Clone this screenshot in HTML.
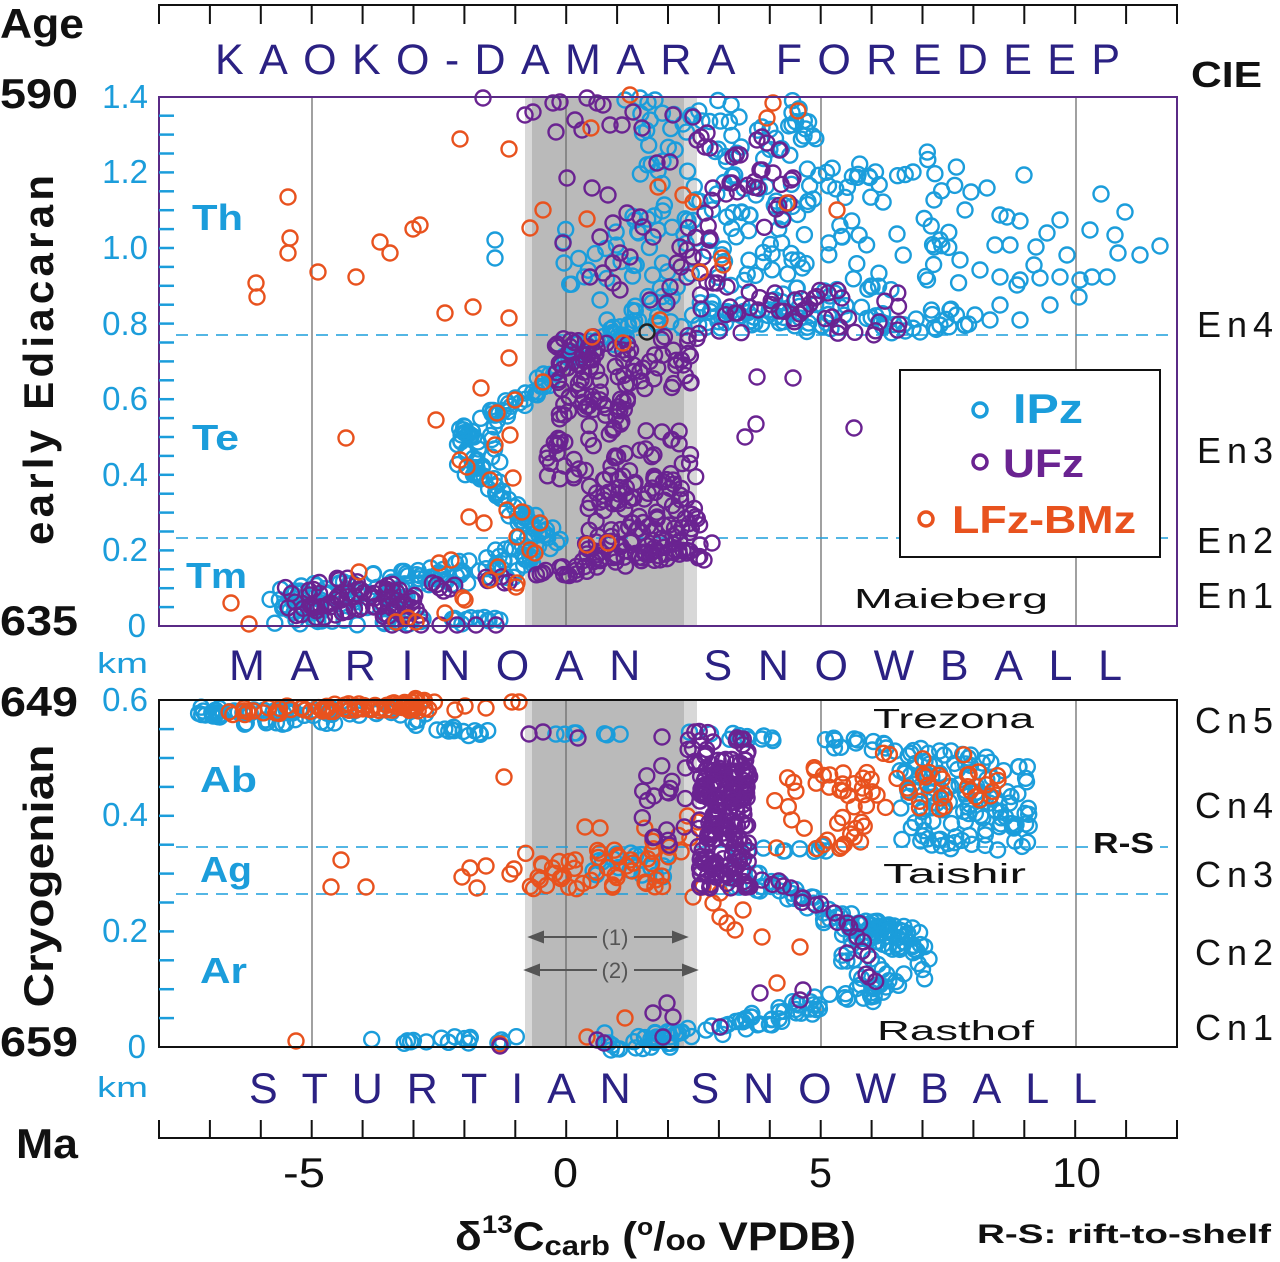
<!DOCTYPE html>
<html><head><meta charset="utf-8">
<style>
html,body{margin:0;padding:0;background:#fff;}
svg{display:block;}
text{font-family:"Liberation Sans",sans-serif;}
</style></head>
<body>
<svg id="s" width="1280" height="1262" viewBox="0 0 1280 1262" xmlns="http://www.w3.org/2000/svg">
<rect width="1280" height="1262" fill="#fff"/>
<!-- grey bands -->
<rect x="525" y="97" width="172" height="529" fill="#d8d8d8"/>
<rect x="532" y="97" width="152" height="529" fill="#bababa"/>
<rect x="525" y="700" width="172" height="347" fill="#d8d8d8"/>
<rect x="532" y="700" width="152" height="347" fill="#bababa"/>
<!-- vertical grid lines -->
<g stroke="#6e6e6e" stroke-width="1.3">
<line x1="312" y1="97" x2="312" y2="626"/><line x1="566" y1="97" x2="566" y2="626"/>
<line x1="821" y1="97" x2="821" y2="626"/><line x1="1076" y1="97" x2="1076" y2="626"/>
<line x1="312" y1="700" x2="312" y2="1047"/><line x1="566" y1="700" x2="566" y2="1047"/>
<line x1="821" y1="700" x2="821" y2="1047"/><line x1="1076" y1="700" x2="1076" y2="1047"/>
</g>
<!-- dashed lines -->
<g stroke="#1b9ddb" stroke-width="1.6" stroke-dasharray="12,8">
<line x1="176" y1="335" x2="1177" y2="335"/>
<line x1="176" y1="538" x2="1177" y2="538"/>
<line x1="176" y1="847" x2="1177" y2="847"/>
<line x1="176" y1="894" x2="1177" y2="894"/>
</g>
<!-- arrows -->
<g stroke="#555" stroke-width="2" fill="#555">
<line x1="540" y1="937" x2="597" y2="937"/><line x1="634" y1="937" x2="676" y2="937"/>
<polygon points="530,937 543,932 543,942"/><polygon points="686,937 673,932 673,942"/>
<line x1="536" y1="970" x2="597" y2="970"/><line x1="634" y1="970" x2="686" y2="970"/>
<polygon points="526,970 539,965 539,975"/><polygon points="696,970 683,965 683,975"/>
</g>
<text x="615" y="945" font-size="22" fill="#555" text-anchor="middle">(1)</text>
<text x="615" y="978" font-size="22" fill="#555" text-anchor="middle">(2)</text>

<g id="pts" fill="none" stroke-width="2.4"></g>

<!-- frames -->
<rect x="159" y="97" width="1018" height="529" fill="none" stroke="#5a2a86" stroke-width="2"/>
<rect x="159" y="700" width="1018" height="347" fill="none" stroke="#111" stroke-width="2"/>
<!-- left ticks -->
<g id="lt" stroke="#1b9ddb" stroke-width="2.5"></g>
<!-- top & bottom axes -->
<g id="ax" stroke="#111" stroke-width="2"></g>

<!-- legend -->
<rect x="900" y="370" width="260" height="187" fill="#fff" stroke="#111" stroke-width="2"/>
<circle cx="980" cy="410" r="7" fill="none" stroke="#1b9ddb" stroke-width="3.5"/>
<circle cx="980" cy="462" r="7" fill="none" stroke="#6a2391" stroke-width="3.5"/>
<circle cx="926" cy="519" r="7" fill="none" stroke="#e8521e" stroke-width="3.5"/>
<text x="1013" y="423" font-size="42" font-weight="bold" fill="#1b9ddb" textLength="70" lengthAdjust="spacingAndGlyphs">IPz</text>
<text x="1003" y="477" font-size="40" font-weight="bold" fill="#6a2391" textLength="81" lengthAdjust="spacingAndGlyphs">UFz</text>
<text x="952" y="533" font-size="39" font-weight="bold" fill="#e8521e" textLength="184" lengthAdjust="spacingAndGlyphs">LFz-BMz</text>

<!-- R-S label -->
<rect x="1088" y="828" width="72" height="30" fill="#fff"/>
<text x="1093" y="853" font-size="29" font-weight="bold" fill="#111" textLength="61" lengthAdjust="spacingAndGlyphs">R-S</text>

<!-- formation labels -->
<g fill="#111" font-size="28">
<text x="854" y="608" textLength="194" lengthAdjust="spacingAndGlyphs">Maieberg</text>
<text x="873" y="728" textLength="161" lengthAdjust="spacingAndGlyphs">Trezona</text>
<text x="883" y="883" textLength="143" lengthAdjust="spacingAndGlyphs">Taishir</text>
<text x="877" y="1040" textLength="157" lengthAdjust="spacingAndGlyphs">Rasthof</text>
</g>

<!-- titles -->
<g fill="#2b2183" font-size="43">
<text x="215" y="74" textLength="905" lengthAdjust="spacing">KAOKO-DAMARA FOREDEEP</text>
<text x="229" y="680" textLength="893" lengthAdjust="spacing">MARINOAN SNOWBALL</text>
<text x="249" y="1103" textLength="848" lengthAdjust="spacing">STURTIAN SNOWBALL</text>
</g>

<!-- left black labels -->
<g fill="#111" font-weight="bold" font-size="42">
<text x="0" y="38" textLength="84" lengthAdjust="spacingAndGlyphs">Age</text>
<text x="0" y="108" textLength="78" lengthAdjust="spacingAndGlyphs">590</text>
<text x="0" y="635" textLength="78" lengthAdjust="spacingAndGlyphs">635</text>
<text x="0" y="716" textLength="78" lengthAdjust="spacingAndGlyphs">649</text>
<text x="0" y="1056" textLength="78" lengthAdjust="spacingAndGlyphs">659</text>
<text x="16" y="1158" textLength="62" lengthAdjust="spacingAndGlyphs">Ma</text>
<text transform="translate(53,360) rotate(-90)" text-anchor="middle" textLength="370" lengthAdjust="spacing">early Ediacaran</text>
<text transform="translate(53,876) rotate(-90)" text-anchor="middle" textLength="263" lengthAdjust="spacingAndGlyphs">Cryogenian</text>
</g>

<!-- km labels -->
<g fill="#1b9ddb" font-size="33" text-anchor="end">
<text x="148" y="108">1.4</text>
<text x="148" y="183">1.2</text>
<text x="148" y="259">1.0</text>
<text x="148" y="335">0.8</text>
<text x="148" y="410">0.6</text>
<text x="148" y="486">0.4</text>
<text x="148" y="561">0.2</text>
<text x="146" y="637">0</text>
<text x="148" y="711">0.6</text>
<text x="148" y="826">0.4</text>
<text x="148" y="942">0.2</text>
<text x="146" y="1058">0</text>
</g>
<g fill="#1b9ddb" font-size="29">
<text x="97" y="673" textLength="51" lengthAdjust="spacingAndGlyphs">km</text>
<text x="97" y="1097" textLength="51" lengthAdjust="spacingAndGlyphs">km</text>
</g>
<g fill="#1b9ddb" font-size="36" font-weight="bold">
<text x="192" y="230" textLength="51" lengthAdjust="spacingAndGlyphs">Th</text>
<text x="192" y="450" textLength="47" lengthAdjust="spacingAndGlyphs">Te</text>
<text x="186" y="588" textLength="61" lengthAdjust="spacingAndGlyphs">Tm</text>
<text x="200" y="792" textLength="57" lengthAdjust="spacingAndGlyphs">Ab</text>
<text x="200" y="882" textLength="52" lengthAdjust="spacingAndGlyphs">Ag</text>
<text x="200" y="983" textLength="47" lengthAdjust="spacingAndGlyphs">Ar</text>
</g>

<!-- right labels -->
<text x="1191" y="87" font-size="36" font-weight="bold" fill="#111" textLength="71" lengthAdjust="spacingAndGlyphs">CIE</text>
<g fill="#111" font-size="36">
<text x="1197" y="337" textLength="76" lengthAdjust="spacing">En4</text>
<text x="1197" y="463" textLength="76" lengthAdjust="spacing">En3</text>
<text x="1197" y="553" textLength="76" lengthAdjust="spacing">En2</text>
<text x="1197" y="608" textLength="76" lengthAdjust="spacing">En1</text>
<text x="1195" y="733" textLength="78" lengthAdjust="spacing">Cn5</text>
<text x="1195" y="818" textLength="78" lengthAdjust="spacing">Cn4</text>
<text x="1195" y="887" textLength="78" lengthAdjust="spacing">Cn3</text>
<text x="1195" y="965" textLength="78" lengthAdjust="spacing">Cn2</text>
<text x="1195" y="1040" textLength="78" lengthAdjust="spacing">Cn1</text>
</g>

<!-- x tick labels -->
<g fill="#111" font-size="42">
<text x="283" y="1187" textLength="42" lengthAdjust="spacingAndGlyphs">-5</text>
<text x="553" y="1187" textLength="25" lengthAdjust="spacingAndGlyphs">0</text>
<text x="809" y="1187" textLength="23" lengthAdjust="spacingAndGlyphs">5</text>
<text x="1052" y="1187" textLength="49" lengthAdjust="spacingAndGlyphs">10</text>
</g>

<!-- x label -->
<text x="455" y="1250" font-size="40" font-weight="bold" fill="#111" textLength="401" lengthAdjust="spacingAndGlyphs">δ<tspan font-size="25" dy="-17">13</tspan><tspan dy="17">C</tspan><tspan font-size="28" dy="5">carb</tspan><tspan dy="-5"> (</tspan><tspan font-size="24" dy="-15">o</tspan><tspan dy="15">/</tspan><tspan font-size="30">oo</tspan> VPDB)</text>
<text x="977" y="1243" font-size="27" font-weight="bold" fill="#111" textLength="294" lengthAdjust="spacingAndGlyphs">R-S: rift-to-shelf</text>

</svg>
<script>
(function(){
var lt=document.getElementById('lt'),ax=document.getElementById('ax'),h='';
for(var k=1;k<=27;k++){var y=626-18.9*k;h+='<line x1="159" y1="'+y+'" x2="174" y2="'+y+'"/>';}
for(var k=1;k<=11;k++){var y=1047-28.9*k;h+='<line x1="159" y1="'+y+'" x2="174" y2="'+y+'"/>';}
lt.innerHTML=h;
h='<line x1="158" y1="5" x2="1178" y2="5"/><line x1="158" y1="1138" x2="1178" y2="1138"/>';
for(var i=0;i<=20;i++){var x=159+50.9*i;h+='<line x1="'+x+'" y1="5" x2="'+x+'" y2="24"/><line x1="'+x+'" y1="1120" x2="'+x+'" y2="1138"/>';}
ax.innerHTML=h;

function mb(a){return function(){a|=0;a=a+0x6D2B79F5|0;var t=Math.imul(a^a>>>15,1|a);t=t+Math.imul(t^t>>>7,61|t)^t;return((t^t>>>14)>>>0)/4294967296;};}
var R=mb(20240611);
var out=[];
function C(c,x,y){out.push('<circle cx="'+x.toFixed(1)+'" cy="'+y.toFixed(1)+'" r="7.5" stroke="'+c+'"/>');}
function L(c,a){for(var i=0;i<a.length-1;i+=2)C(c,a[i],a[i+1]);}
function box(c,x0,y0,x1,y1,n){for(var i=0;i<n;i++)C(c,x0+R()*(x1-x0),y0+R()*(y1-y0));}
function path(c,p,n,jx,jy){var seg=[],tot=0;for(var i=0;i<p.length-2;i+=2){var d=Math.hypot(p[i+2]-p[i],p[i+3]-p[i+1]);seg.push(d);tot+=d;}
 for(var k=0;k<n;k++){var t=R()*tot,j=0;while(j<seg.length-1&&t>seg[j]){t-=seg[j];j++;}var f=seg[j]?t/seg[j]:0;
 var x=p[2*j]+(p[2*j+2]-p[2*j])*f,y=p[2*j+1]+(p[2*j+3]-p[2*j+1])*f;C(c,x+(R()*2-1)*jx,y+(R()*2-1)*jy);}}
var B='#1b9ddb',P='#6a2391',O='#e8521e';

/* ===== TOP PANEL ===== */
path(B,[272,605,330,596,400,586,450,576,500,566,535,552],120,10,16);
path(B,[280,621,350,623,420,622,500,620],30,8,3);
path(B,[560,538,535,527,515,510,500,492,483,475,470,455,466,440,476,425,496,415,518,405,535,393,550,375,566,360,586,347,612,336,640,327],110,7,7);
box(B,455,425,500,480,25);
box(B,517,515,560,553,15);
box(B,560,225,625,285,14);
L(B,[495,240,495,258,607,320,600,300,625,100,640,98,655,100]);
box(B,630,100,820,330,180);
box(B,820,150,960,335,70);
path(B,[640,320,700,318,800,322,900,322,960,318],50,30,10);
L(B,[913,172,1024,175,971,192,987,188,934,200,1101,194,1125,212,1160,246,1115,235,1118,253,1036,247,1047,233,1060,220,1067,255,1080,280,1107,277,1092,277,1079,297,1050,305,1017,285,1000,305,990,320,1034,265,1020,221,965,210,1007,217,995,245,980,270,960,260,940,240,950,310,940,325,965,325,1000,277,1020,280,1040,278,1060,277,1010,245,1090,230,1140,255,1000,215,975,315,1020,320]);
box(P,285,578,420,618,65);
path(P,[300,600,410,598],15,10,12);
L(P,[392,625,406,625,421,625,440,625,457,625,476,625,496,625]);
path(P,[420,590,470,585,510,580,545,573,580,568,620,561,660,555,700,547],45,6,6);
box(P,585,475,700,562,120);
box(P,545,430,695,480,45);
box(P,555,335,630,430,85);
box(P,630,333,700,390,30);
L(P,[700,545,712,543,704,560,793,378,757,377,756,424,745,437,854,428]);
L(P,[483,98,525,115,533,112,553,103,560,102,556,132,575,120,582,130,587,98,597,103,603,105,610,125,622,125,633,112,642,128,673,115,693,117,697,140,707,133,710,148,567,178,592,188,608,195,657,163,670,162,733,157,740,155,760,170,773,173,793,178,757,140,767,143,780,150,713,188,730,183,627,213,640,217,643,227,653,237,613,223,600,237,563,243,620,253,630,257,613,263,590,277,603,273,613,283,620,290,650,300,667,303,670,287,680,247,687,250,677,263,703,257,710,238,700,273,687,277,707,282,717,283,727,287,701,137,705,147,736,155,762,137,779,150,762,170,791,180,732,183,789,203,705,213,709,240,693,257,681,267,718,273,713,283,775,293,795,300,828,293,730,307,758,310,832,317]);
box(P,700,290,900,337,40);
box(P,680,180,790,240,15);
L(O,[460,139,509,149,288,197,290,238,288,253,256,283,257,297,318,272,356,277,380,242,390,253,413,229,420,225,530,228,543,210,587,219,591,128,473,307,509,318,445,313,509,358,481,388,436,420,346,438,231,603,249,624,359,572,439,563,451,560,465,600,445,613,396,622,408,618,416,622,516,587,469,517,484,523,460,460,467,467,495,445,490,480,513,478,507,510,522,512,517,537,540,523,530,550,535,553,497,413,510,435,515,400,498,567,517,583,490,580,463,598,587,545,608,543,543,382,592,337,623,343,658,187,683,195,693,202,722,258,723,265,700,272,787,203,837,210,773,103,798,111,767,118,660,320,630,95]);

/* ===== LOWER PANEL ===== */
path(B,[195,713,300,712,430,711],55,6,4);
box(B,195,705,230,722,8);
path(B,[240,723,350,721],12,6,3);
path(B,[410,722,450,728,487,734],16,5,4);
path(B,[555,735,635,734],7,5,2);
path(B,[687,735,780,738],12,5,3);
path(B,[820,743,880,746,920,752,960,752,1000,760],28,6,6);
box(B,900,760,1030,850,95);
box(B,960,790,1032,830,20);
path(B,[740,850,825,848],10,5,3);
box(B,593,853,670,877,18);
path(B,[730,877,770,885,800,900,830,915,860,925,890,935,915,945,925,960],75,8,10);
box(B,840,925,925,990,45);
path(B,[900,985,860,995,820,1005,780,1015,740,1025,700,1035,660,1040,600,1042],95,8,9);
path(B,[355,1041,515,1040],18,6,4);
path(O,[230,712,300,709,380,707,430,705],65,5,4);
box(O,400,698,432,712,10);
L(O,[455,710,465,706,486,708,512,702,519,702,504,777,341,860,331,887,366,887,462,877,470,868,486,866,477,888,510,874,514,869,585,827,600,828,296,1041,500,1044,587,1037,625,1018]);
box(O,525,850,665,890,45);
box(O,640,810,700,875,12);
box(O,770,760,880,850,40);
box(O,860,753,1010,810,35);
L(O,[693,897,713,903,720,917,727,923,735,930,743,910,762,937,800,947,777,983,703,887,720,893]);
box(P,687,730,750,775,35);
box(P,698,770,750,888,190);
box(P,640,765,695,850,18);
path(P,[760,880,790,890,810,905,833,915,860,930,870,960,870,985],22,6,6);
L(P,[803,990,800,1000,760,993,667,1003,673,1017,653,1013,663,1037,597,1040,604,1043,720,1027,500,1046,529,734,543,732,578,738,662,737,737,738,847,953]);
out.push('<circle cx="647" cy="332" r="7.5" stroke="#222"/>');
document.getElementById('pts').innerHTML=out.join('');
})();
</script>
</body></html>
